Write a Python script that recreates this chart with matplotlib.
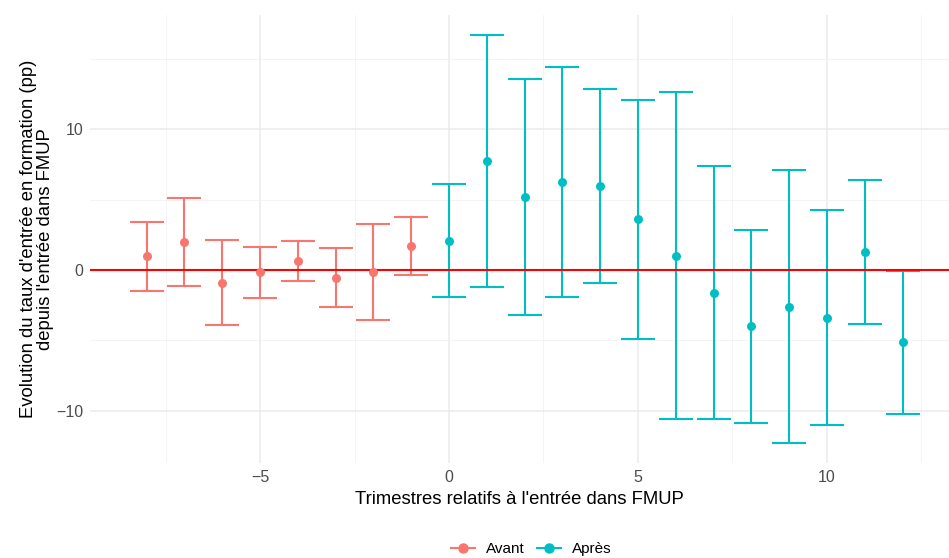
import numpy as np
import matplotlib
matplotlib.use("Agg")
from matplotlib import pyplot as plt
from matplotlib.lines import Line2D
from matplotlib.ticker import MultipleLocator

plt.rcParams['font.family'] = ['Liberation Sans', 'DejaVu Sans']

# Trimestres relatifs et estimations (pp)
x_avant = [-8, -7, -6, -5, -4, -3, -2, -1]
est_avant = [0.97, 1.99, -0.90, -0.14, 0.64, -0.54, -0.14, 1.68]
low_avant = [-1.47, -1.13, -3.92, -1.99, -0.76, -2.65, -3.55, -0.38]
up_avant = [3.40, 5.10, 2.13, 1.65, 2.03, 1.56, 3.29, 3.78]

x_apres = [0, 1, 2, 3, 4, 5, 6, 7, 8, 9, 10, 11, 12]
est_apres = [2.08, 7.71, 5.18, 6.22, 5.98, 3.59, 1.02, -1.65, -4.00, -2.60, -3.38, 1.30, -5.13]
low_apres = [-1.89, -1.23, -3.17, -1.94, -0.90, -4.89, -10.59, -10.59, -10.87, -12.29, -11.02, -3.81, -10.19]
up_apres = [6.08, 16.67, 13.55, 14.37, 12.84, 12.08, 12.65, 7.38, 2.86, 7.07, 4.23, 6.41, -0.05]

col_avant = '#F8766D'
col_apres = '#00BFC4'

fig = plt.figure(figsize=(9.49, 5.58), dpi=100)
ax = fig.add_axes([90/949, 1 - 463/558, 859/949, 448/558])

#grille style theme_minimal
for s in ax.spines.values():
    s.set_visible(False)
ax.set_xlim(-9.5, 13.23)
ax.set_ylim(-13.69, 18.09)
ax.xaxis.set_major_locator(MultipleLocator(5))
ax.xaxis.set_minor_locator(MultipleLocator(2.5))
ax.yaxis.set_major_locator(MultipleLocator(10))
ax.yaxis.set_minor_locator(MultipleLocator(5))
ax.grid(which='major', color='#ebebeb', linewidth=1.1)
ax.grid(which='minor', color='#f2f2f2', linewidth=0.6)
ax.set_axisbelow(True)
ax.tick_params(which='both', length=0, labelsize=11.5, labelcolor='#4d4d4d', pad=5)
ax.set_xticks([-5, 0, 5, 10])
ax.set_xticklabels(['\u22125', '0', '5', '10'])
ax.set_yticks([-10, 0, 10])
ax.set_yticklabels(['\u221210', '0', '10'])

def draw(xs, est, low, up, col):
    xs = np.array(xs)
    est = np.array(est)
    low = np.array(low)
    up = np.array(up)
    ax.vlines(xs, low, up, color=col, linewidth=1.5, zorder=2)
    ax.hlines(low, xs - 0.45, xs + 0.45, color=col, linewidth=1.5, zorder=2)
    ax.hlines(up, xs - 0.45, xs + 0.45, color=col, linewidth=1.5, zorder=2)
    ax.scatter(xs, est, s=42, color=col, zorder=4, linewidths=0)

draw(x_avant, est_avant, low_avant, up_avant, col_avant)
draw(x_apres, est_apres, low_apres, up_apres, col_apres)

ax.axhline(0, color='#FF0000', linewidth=1.5, zorder=3)

ax.set_xlabel("Trimestres relatifs à l'entrée dans FMUP", fontsize=13.3, labelpad=4.5)
ax.set_ylabel("Evolution du taux d'entrée en formation (pp)\ndepuis l'entrée dans FMUP",
              fontsize=13.3, labelpad=1.5, multialignment='center', linespacing=1.0)

handles = [Line2D([0], [0], color=col_avant, marker='o', markersize=6.5, linewidth=1.5),
           Line2D([0], [0], color=col_apres, marker='o', markersize=6.5, linewidth=1.5)]
fig.legend(handles, ['Avant', 'Après'], loc='center', bbox_to_anchor=(531/949, 1 - 549/558),
           ncol=2, frameon=False, fontsize=11, handlelength=1.6, columnspacing=0.8,
           handletextpad=0.7, borderaxespad=0)

fig.savefig('out.png', dpi=100)
